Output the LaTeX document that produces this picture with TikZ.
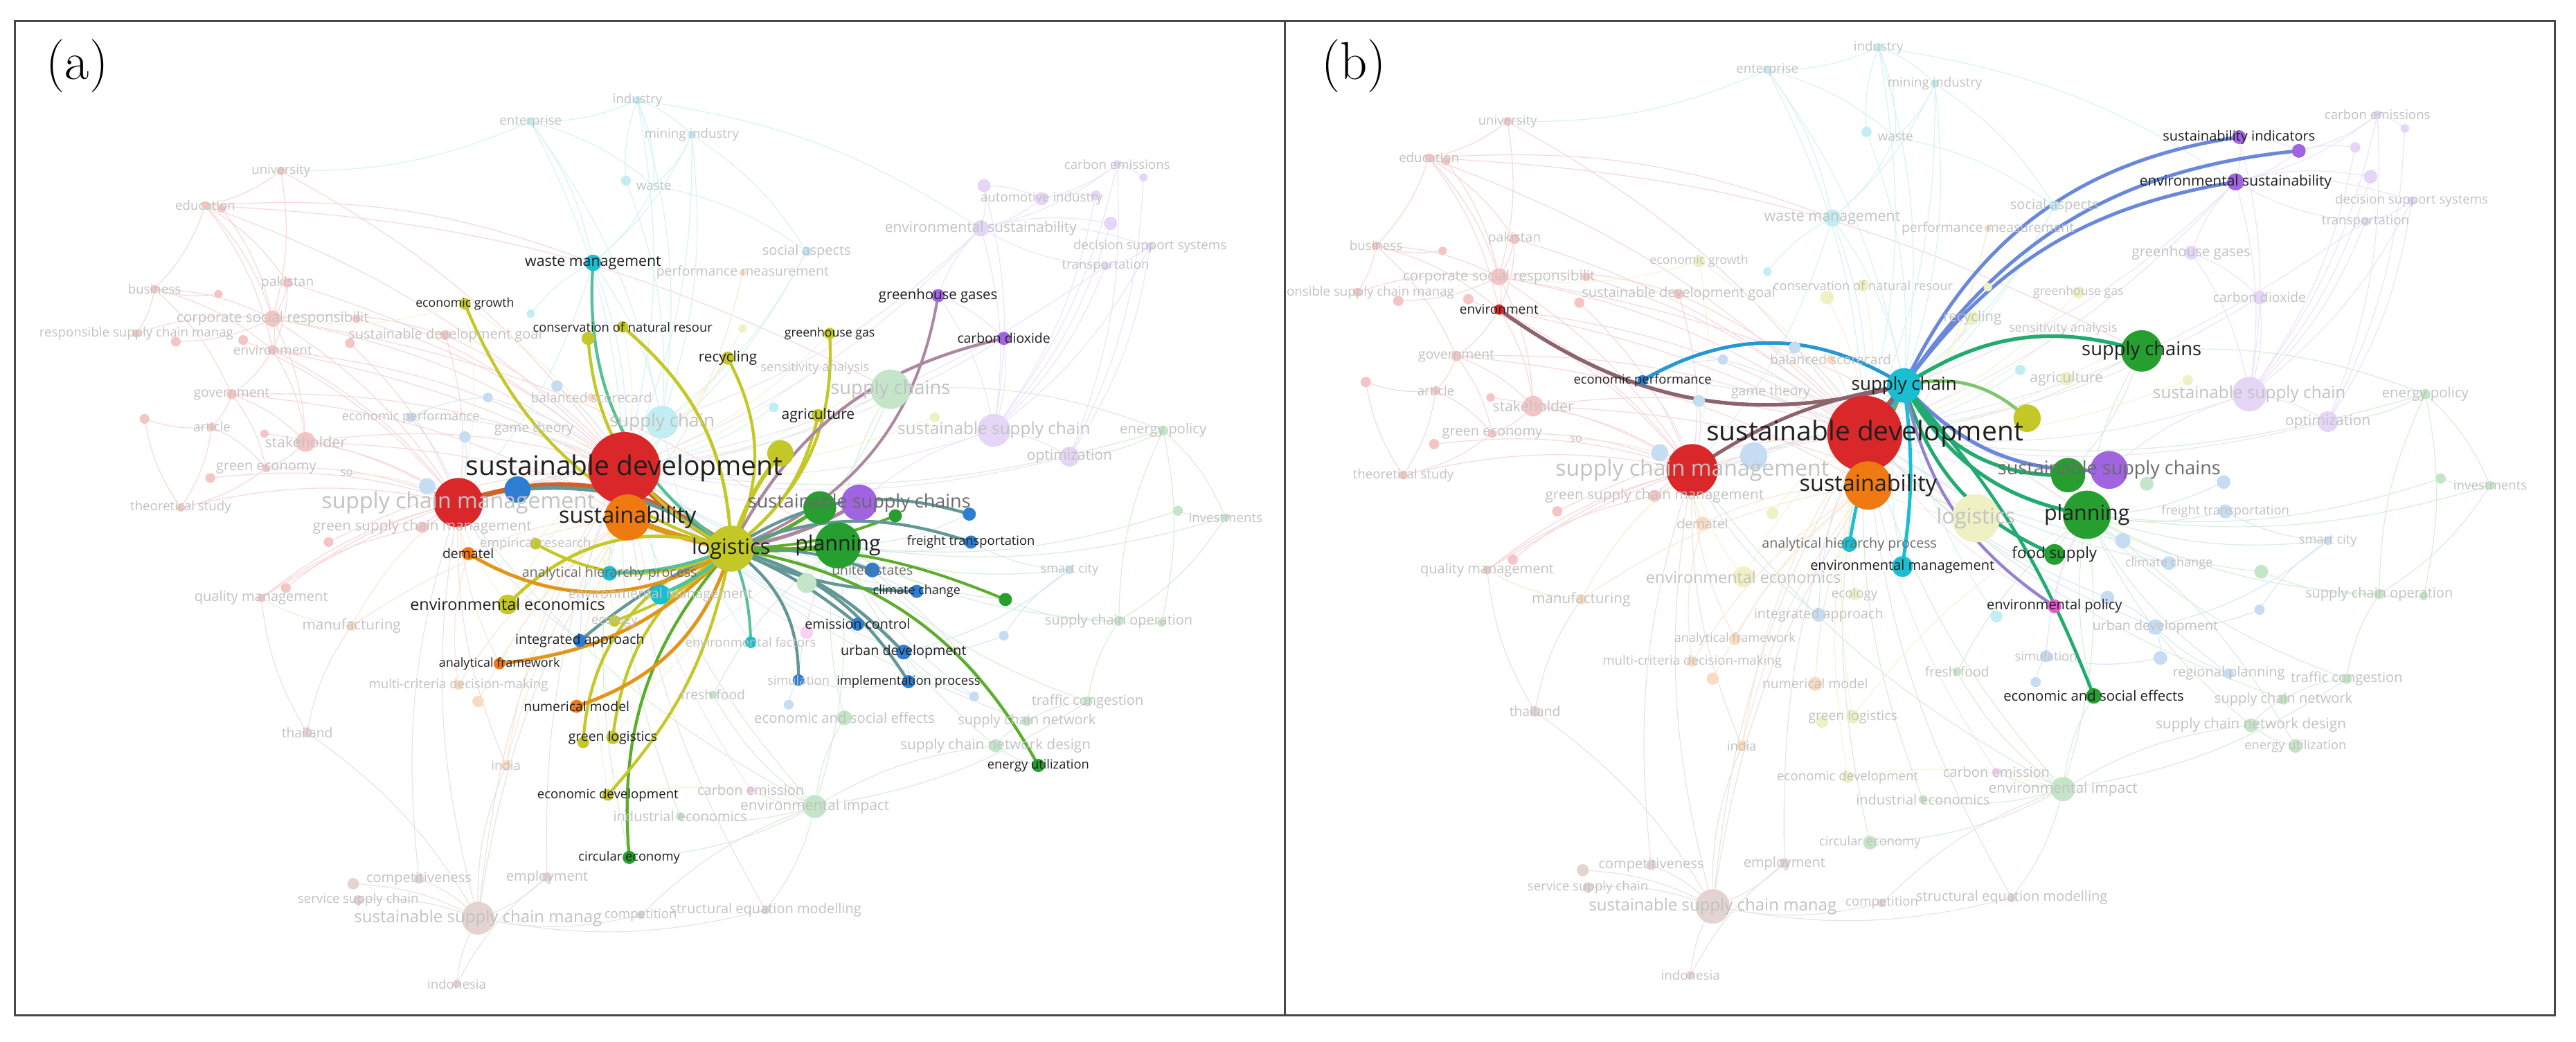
\documentclass[tikz,border=0pt]{standalone}
\usepackage{fontspec}
\newfontfamily\vos{Open Sans}

\definecolor{rd}{RGB}{218,40,42}
\definecolor{gr}{RGB}{38,158,48}
\definecolor{bl}{RGB}{45,125,210}
\definecolor{yl}{RGB}{196,200,38}
\definecolor{pu}{RGB}{160,100,225}
\definecolor{cy}{RGB}{25,190,210}
\definecolor{or}{RGB}{240,122,18}
\definecolor{br}{RGB}{150,95,85}
\definecolor{pk}{RGB}{232,90,205}
\colorlet{fadetext}{black!24}

\tikzset{
  fedge/.style={draw=#1!18, line width=0.35pt},
  hedge/.style={draw=#1, line cap=round},
  lbl/.style={inner sep=0pt, outer sep=0pt},
  frame/.style={draw=black!72, line width=0.9pt}
}

% flags per panel: hn = bright node, hd = dark label, hm = grey label
\newcommand\setflag[2]{\foreach \fn in {#2}{\expandafter\xdef\csname #1:\fn\endcsname{}}}
\expandafter\def\csname show:ab:a\endcsname{}
\expandafter\def\csname show:ab:b\endcsname{}
\expandafter\def\csname show:a:a\endcsname{}
\expandafter\def\csname show:b:b\endcsname{}

\setflag{hna}{logistics,sd,scm,bnode,sustainability,planning,sscg,sscs,gdot1,ydot2,agriculture,ghg,recycling,%
conservation,ydot1,wastemgmt,econgrowth,ghgs,co2,dematel,empirical,ahp,envmgmt,enveco,ecology,integrated,%
analfw,numerical,glog,glog2,econdev,circular,envfactors,simulation,emission,urban,impl,climate,us,freight,%
bldot5,gdot2,energyutil}
\setflag{hda}{sd,sustainability,logistics,planning,econgrowth,wastemgmt,conservation,recycling,ghg,ghgs,co2,%
agriculture,dematel,enveco,integrated,analfw,numerical,glog,econdev,circular,freight,climate,emission,urban,%
impl,energyutil}
\setflag{hma}{ahp,us,sscs}
\setflag{hnb}{supplychain,environment,econperf,sd,sustainability,scm,supplychains,sustind,autoind,envsust,%
ydot2,sscg,sscs,planning,foodsupply,envpolicy,econsoc,envmgmt,ahp}
\setflag{hdb}{environment,econperf,supplychain,sd,sustainability,supplychains,sustind,envsust,planning,%
foodsupply,envmgmt,envpolicy,econsoc}
\setflag{hmb}{ahp,sscs}

% keyword: name, x, y, radius, colour, font size, text, panels with label
\newcommand\kw[8]{%
  \ifcase\netpass\relax
    \coordinate (#1) at (#2,#3);%
  \or
    \ifdim#4pt>0pt
      \ifcsname hn\curpanel:#1\endcsname
        \fill[#5] (#1) circle[radius=#4];%
      \else
        \fill[#5!27] (#1) circle[radius=#4];%
      \fi
    \fi
  \or
    \ifcsname show:#8:\curpanel\endcsname
      \ifcsname hd\curpanel:#1\endcsname\else\ifcsname hm\curpanel:#1\endcsname\else
        \node[lbl, text=fadetext, font={\vos\fontsize{#6}{#6}\selectfont}] (#1-t) at (#1) {#7};%
      \fi\fi
    \fi
  \or
    \ifcsname show:#8:\curpanel\endcsname
      \ifcsname hd\curpanel:#1\endcsname
        \node[lbl, text=black!88, font={\vos\fontsize{#6}{#6}\selectfont}] (#1-t) at (#1) {#7};%
      \else\ifcsname hm\curpanel:#1\endcsname
        \node[lbl, text=black!58, font={\vos\fontsize{#6}{#6}\selectfont}] (#1-t) at (#1) {#7};%
      \fi\fi
    \fi
  \fi}

\newcommand\basenet{%
% red
\kw{university}{171}{104}{2.5}{rd}{5.6}{university}{ab}
\kw{education}{125}{125}{2.5}{rd}{5.6}{education}{ab}
\kw{edudot}{135}{127}{2.5}{rd}{}{}{}
\kw{business}{94}{176}{2.5}{rd}{5.6}{business}{ab}
\kw{pakistan}{175}{172}{3}{rd}{5.8}{pakistan}{ab}
\kw{rdot1}{133}{179}{2.5}{rd}{}{}{}
\kw{csr}{166}{194}{5}{rd}{6.2}{corporate social responsibilit}{ab}
\kw{rdot2}{217}{194}{2.5}{rd}{}{}{}
\kw{rscm}{83}{203}{2.5}{rd}{5.6}{responsible supply chain manag}{ab}
\kw{rdot3}{107}{208}{3}{rd}{}{}{}
\kw{rdot4}{148}{207}{3}{rd}{}{}{}
\kw{environment}{166}{213}{3}{rd}{5.7}{environment}{ab}
\kw{sdg}{271}{204}{3}{rd}{6}{sustainable development goal}{ab}
\kw{rdot5}{213}{209}{3}{rd}{}{}{}
\kw{government}{141}{240}{3}{rd}{5.8}{government}{ab}
\kw{rdot6}{88}{255}{3}{rd}{}{}{}
\kw{article}{129}{260}{2.5}{rd}{5.6}{article}{ab}
\kw{rdot7}{161}{264}{2.5}{rd}{}{}{}
\kw{stakeholder}{186}{269}{6}{rd}{6.4}{stakeholder}{ab}
\kw{greeneco}{162}{285}{2.5}{rd}{6}{green economy}{ab}
\kw{rdot8}{128}{291}{3}{rd}{}{}{}
\kw{theory}{110}{309}{2.5}{rd}{5.6}{theoretical study}{ab}
\kw{gscm}{257}{321}{3.5}{rd}{6.2}{green supply chain management}{ab}
\kw{rdot9}{200}{330}{3}{rd}{}{}{}
\kw{quality}{159}{364}{2.5}{rd}{6}{quality management}{ab}
\kw{rdot10}{174}{358}{3}{rd}{}{}{}
% brown
\kw{thailand}{187}{446}{3}{br}{5.8}{thailand}{ab}
\kw{indonesia}{278}{599}{2.5}{br}{5.6}{indonesia}{ab}
\kw{ssmm}{291}{559}{10}{br}{7.2}{sustainable supply chain manag}{ab}
\kw{competitive}{255}{535}{3}{br}{6}{competitiveness}{ab}
\kw{bdot1}{215}{538}{3.5}{br}{}{}{}
\kw{service}{218}{548}{3}{br}{5.6}{service supply chain}{ab}
\kw{employment}{333}{534}{3}{br}{6}{employment}{ab}
\kw{competition}{390}{557}{2.5}{br}{5.6}{competition}{ab}
\kw{sem}{466}{554}{2.5}{br}{6}{structural equation modelling}{ab}
% orange
\kw{dematel}{285}{337}{4}{or}{5.8}{dematel}{ab}
\kw{analfw}{304}{404}{3.5}{or}{5.4}{analytical framework}{ab}
\kw{numerical}{351}{430}{4}{or}{5.8}{numerical model}{ab}
\kw{mcdm}{279}{417}{3}{or}{5.6}{multi-criteria decision-making}{ab}
\kw{odot1}{291}{427}{3.5}{or}{}{}{}
\kw{india}{308}{466}{3}{or}{5.6}{india}{ab}
\kw{manufacturing}{214}{381}{3}{or}{6.2}{manufacturing}{ab}
\kw{so}{211}{288}{0}{or}{5}{so}{ab}
\kw{perfmeas}{452}{166}{2}{or}{5.8}{performance measurement}{ab}
\kw{balanced}{360}{242}{2.5}{or}{5.8}{balanced scorecard}{ab}
% yellow
\kw{econgrowth}{283}{185}{3.5}{yl}{5.3}{economic growth}{ab}
\kw{conservation}{379}{199}{3.5}{yl}{5.5}{conservation of natural resour}{ab}
\kw{ydot1}{358}{206}{4}{yl}{}{}{}
\kw{recycling}{443}{218}{4}{yl}{6.2}{recycling}{ab}
\kw{ghg}{505}{203}{3.5}{yl}{5.3}{greenhouse gas}{ab}
\kw{agriculture}{498}{253}{4}{yl}{6.3}{agriculture}{ab}
\kw{ydot2}{475}{276}{8}{yl}{}{}{}
\kw{ydot3}{452}{200}{2.5}{yl}{}{}{}
\kw{ydot4}{569}{254}{3}{yl}{}{}{}
\kw{sensitivity}{496}{224}{0}{yl}{5.5}{sensitivity analysis}{ab}
\kw{empirical}{326}{331}{3.5}{yl}{5.6}{empirical research}{a}
\kw{enveco}{309}{368}{6}{yl}{7}{environmental economics}{ab}
\kw{ecology}{374}{378}{3.5}{yl}{5.6}{ecology}{ab}
\kw{glog}{373}{449}{4}{yl}{5.8}{green logistics}{ab}
\kw{glog2}{355}{452}{3.5}{yl}{}{}{}
\kw{econdev}{370}{484}{3.5}{yl}{5.6}{economic development}{ab}
\kw{gametheory}{325}{261}{0}{yl}{5.8}{game theory}{ab}
% cyan
\kw{industry}{388}{61}{2.5}{cy}{5.6}{industry}{ab}
\kw{enterprise}{323}{74}{2.5}{cy}{5.6}{enterprise}{ab}
\kw{mining}{421}{82}{2.5}{cy}{5.6}{mining industry}{ab}
\kw{waste}{398}{113}{0}{cy}{5.6}{waste}{ab}
\kw{cdot0}{381}{110}{3}{cy}{}{}{}
\kw{wastemgmt}{361}{160}{5}{cy}{6.4}{waste management}{ab}
\kw{socialaspects}{491}{153}{3}{cy}{6}{social aspects}{ab}
\kw{supplychain}{403}{257}{10}{cy}{7.8}{supply chain}{ab}
\kw{cdot1}{323}{191}{2.5}{cy}{}{}{}
\kw{cdot2}{471}{248}{3}{cy}{}{}{}
\kw{ahp}{371}{349}{4.5}{cy}{5.9}{analytical hierarchy process}{ab}
\kw{envmgmt}{402}{362}{6}{cy}{6}{environmental management}{ab}
\kw{envfactors}{457}{391}{3.5}{cy}{5.5}{environmental factors}{a}
% purple
\kw{carbonemis}{680}{100}{2.5}{pu}{5.6}{carbon emissions}{ab}
\kw{pdot1}{696}{108}{2.5}{pu}{}{}{}
\kw{sustind}{599}{113}{4}{pu}{6}{sustainability indicators}{b}
\kw{autoind}{634}{121}{4}{pu}{5.6}{automotive industry}{a}
\kw{pdot2}{667}{119}{3}{pu}{}{}{}
\kw{envsust}{597}{139}{5}{pu}{6.3}{environmental sustainability}{ab}
\kw{pdot3}{676}{136}{4}{pu}{}{}{}
\kw{dss}{700}{150}{2.5}{pu}{5.6}{decision support systems}{ab}
\kw{transport}{673}{162}{2.5}{pu}{5.6}{transportation}{ab}
\kw{ghgs}{571}{180}{4}{pu}{6.1}{greenhouse gases}{ab}
\kw{co2}{611}{206}{4}{pu}{5.8}{carbon dioxide}{ab}
\kw{ssc}{605}{262}{10}{pu}{7.3}{sustainable supply chain}{ab}
\kw{optimization}{651}{278}{6}{pu}{6.3}{optimization}{ab}
% green
\kw{supplychains}{542}{237}{12}{gr}{8.2}{supply chains}{ab}
\kw{sscg}{499}{309}{10}{gr}{}{}{}
\kw{gdot1}{545}{314}{4}{gr}{}{}{}
\kw{gdot2}{612}{365}{4}{gr}{}{}{}
\kw{energyutil}{632}{466}{4}{gr}{5.5}{energy utilization}{ab}
\kw{econsoc}{514}{437}{4.5}{gr}{6.1}{economic and social effects}{ab}
\kw{foodsupply}{491}{355}{6}{gr}{6.7}{food supply}{b}
\kw{energypolicy}{708}{262}{3}{gr}{6.1}{energy policy}{ab}
\kw{investments}{746}{315}{2.5}{gr}{5.6}{investments}{ab}
\kw{gdot3}{717}{311}{3}{gr}{}{}{}
\kw{scop}{681}{378}{3}{gr}{6}{supply chain operation}{ab}
\kw{gdot4}{707}{379}{2.5}{gr}{}{}{}
\kw{traffic}{662}{427}{3}{gr}{6}{traffic congestion}{ab}
\kw{scn}{625}{439}{3}{gr}{6}{supply chain network}{ab}
\kw{scnd}{606}{454}{4}{gr}{6.2}{supply chain network design}{ab}
\kw{envimpact}{496}{491}{7}{gr}{6.3}{environmental impact}{ab}
\kw{freshfood}{434}{423}{2.5}{gr}{5.8}{fresh food}{ab}
\kw{industrial}{414}{497}{2.5}{gr}{6}{industrial economics}{ab}
\kw{circular}{383}{522}{4}{gr}{5.5}{circular economy}{ab}
% blue
\kw{bnode}{315}{298}{8}{bl}{}{}{}
\kw{econperf}{250}{254}{3}{bl}{5.5}{economic performance}{ab}
\kw{bldot1}{339}{235}{3.5}{bl}{}{}{}
\kw{bldot2}{297}{242}{3}{bl}{}{}{}
\kw{bldot3}{283}{266}{3.5}{bl}{}{}{}
\kw{bldot4}{260}{296}{5}{bl}{}{}{}
\kw{integrated}{353}{390}{4}{bl}{5.9}{integrated approach}{ab}
\kw{us}{531}{347}{4.5}{bl}{5.8}{united states}{a}
\kw{climate}{558}{360}{4}{bl}{5.4}{climate change}{ab}
\kw{emission}{522}{380}{4}{bl}{5.9}{emission control}{a}
\kw{urban}{550}{397}{4.5}{bl}{5.9}{urban development}{ab}
\kw{simulation}{486}{414}{3.5}{bl}{5.5}{simulation}{ab}
\kw{impl}{553}{415}{4}{bl}{5.5}{implementation process}{a}
\kw{freight}{591}{330}{4}{bl}{5.5}{freight transportation}{ab}
\kw{bldot5}{590}{313}{4}{bl}{}{}{}
\kw{regional}{593}{424}{3}{bl}{6}{regional planning}{b}
\kw{smartcity}{651}{347}{2.5}{bl}{5.5}{smart city}{ab}
\kw{bldot6}{480}{429}{3}{bl}{}{}{}
\kw{bldot7}{611}{387}{3}{bl}{}{}{}
% pink
\kw{carbonemission}{457}{481}{2.5}{pk}{6}{carbon emission}{ab}
\kw{envpolicy}{491}{385}{4}{pk}{6}{environmental policy}{b}
% big ones
\kw{scm}{279}{306}{15}{rd}{9.6}{supply chain management}{ab}
\kw{sd}{380}{285}{22}{rd}{11.7}{sustainable development}{ab}
\kw{sustainability}{382}{315}{14}{or}{9.7}{sustainability}{ab}
\kw{logistics}{445}{334}{14}{yl}{9.2}{logistics}{ab}
\kw{planning}{510}{332}{14}{gr}{9.1}{planning}{ab}
\kw{sscs}{523}{306}{11}{pu}{8.1}{sustainable supply chains}{ab}
}

% faint links
\newcommand\fadenet{%
\foreach \fa/\fb in {university/education,university/csr,university/sd,education/business,education/pakistan,%
education/csr,education/environment,education/sd,education/wastemgmt,edudot/csr,business/csr,business/rscm,%
business/government,business/environment,pakistan/csr,pakistan/environment,pakistan/sd,csr/environment,%
csr/stakeholder,csr/sd,csr/scm,csr/rdot3,csr/sdg,environment/government,environment/sd,environment/stakeholder,%
environment/scm,government/article,government/stakeholder,government/greeneco,government/sd,article/greeneco,%
article/theory,article/rdot6,stakeholder/scm,stakeholder/sd,stakeholder/greeneco,greeneco/theory,greeneco/scm,%
theory/scm,theory/rdot6,sdg/sd,sdg/scm,quality/scm,quality/gscm,quality/sd,gscm/scm,gscm/sd,rscm/csr,%
rdot1/business,rdot2/sd,rdot4/scm,rdot5/scm,rdot7/scm,rdot8/scm,rdot9/sd,rdot10/scm,environment/logistics,%
csr/planning,stakeholder/logistics,government/sustainability,education/supplychains}
  \draw[fedge=rd] (\fa) to[bend left=12] (\fb);
\foreach \fa/\fb in {thailand/ssmm,thailand/manufacturing,thailand/quality,competitive/ssmm,employment/ssmm,%
ssmm/sd,ssmm/scm,ssmm/india,india/scm,competitive/scm,indonesia/ssmm,service/ssmm,competition/ssmm,sem/ssmm,%
employment/sd,bdot1/ssmm,sem/sd,competition/envimpact,ssmm/sustainability,indonesia/employment}
  \draw[fedge=br] (\fa) to[bend left=12] (\fb);
\foreach \fa/\fb in {dematel/sustainability,dematel/scm,analfw/sustainability,numerical/sustainability,%
mcdm/sustainability,mcdm/dematel,india/sustainability,manufacturing/sustainability,manufacturing/scm,%
perfmeas/sustainability,balanced/sustainability,odot1/sustainability,manufacturing/quality,analfw/scm,india/sd,so/scm}
  \draw[fedge=or] (\fa) to[bend left=12] (\fb);
\foreach \fa/\fb in {econgrowth/sd,conservation/sd,recycling/sd,ghg/sd,agriculture/sd,enveco/sd,ecology/sd,glog/sd,%
econdev/sd,ydot2/sd,empirical/sd,gametheory/sd,ydot3/sd,ydot4/sd,econgrowth/scm,recycling/supplychain,%
agriculture/supplychains,enveco/scm,glog/planning,econdev/envimpact,ydot1/sd,ecology/envmgmt,econgrowth/csr,%
sensitivity/sd,logistics/sd,logistics/planning,logistics/sustainability}
  \draw[fedge=yl] (\fa) to[bend left=12] (\fb);
\foreach \fa/\fb in {industry/enterprise,industry/mining,industry/waste,enterprise/waste,enterprise/wastemgmt,%
mining/waste,mining/wastemgmt,waste/wastemgmt,waste/socialaspects,wastemgmt/supplychain,wastemgmt/sd,%
socialaspects/supplychain,supplychain/sd,supplychain/scm,ahp/supplychain,envmgmt/supplychain,%
envfactors/supplychain,cdot1/wastemgmt,industry/sd,enterprise/supplychain,mining/supplychain,%
industry/supplychain,mining/sd,enterprise/sd,cdot0/supplychain,enterprise/university,industry/envsust,%
mining/socialaspects,socialaspects/sd,cdot2/sd,wastemgmt/scm,cdot0/industry}
  \draw[fedge=cy] (\fa) to[bend left=12] (\fb);
\foreach \fa/\fb in {carbonemis/pdot1,carbonemis/autoind,carbonemis/envsust,autoind/envsust,autoind/pdot2,%
envsust/pdot3,envsust/dss,dss/transport,transport/envsust,ghgs/envsust,ghgs/co2,co2/ssc,ghgs/ssc,%
ssc/optimization,envsust/ssc,sustind/envsust,ssc/sd,sscs/ssc,envsust/sd,co2/sd,carbonemis/ssc,transport/ssc,%
dss/ssc,pdot3/ssc,optimization/sd,sustind/ssc,pdot1/optimization,carbonemis/optimization,sscs/sd,%
envsust/supplychain,dss/optimization,transport/sd,pdot2/ssc,sustind/autoind}
  \draw[fedge=pu] (\fa) to[bend left=12] (\fb);
\foreach \fa/\fb in {planning/supplychains,planning/sscg,supplychains/sd,supplychains/sscg,%
supplychains/energypolicy,energypolicy/investments,energypolicy/optimization,investments/gdot3,%
planning/energyutil,planning/envimpact,envimpact/freshfood,envimpact/econsoc,envimpact/scnd,%
envimpact/carbonemission,envimpact/industrial,envimpact/circular,scnd/scn,scn/traffic,traffic/scop,%
scop/gdot2,scop/planning,scnd/planning,econsoc/planning,freshfood/planning,energyutil/scnd,envimpact/sd,%
smartcity/planning,gdot4/scop,gdot3/planning,energypolicy/sd,investments/planning,scop/energypolicy,%
traffic/planning,scn/sd,circular/sd,industrial/sd,gdot2/planning,foodsupply/planning,envimpact/scm,%
energypolicy/gdot4,investments/scop,traffic/envimpact,envimpact/sem}
  \draw[fedge=gr] (\fa) to[bend left=12] (\fb);
\foreach \fa/\fb in {bnode/sd,bnode/scm,econperf/sd,econperf/scm,us/planning,climate/planning,emission/urban,%
urban/impl,impl/simulation,simulation/planning,freight/planning,regional/urban,smartcity/urban,bldot7/urban,%
integrated/sd,integrated/scm,climate/sd,us/sd,bldot6/simulation,bldot1/sd,bldot2/sd,bldot3/scm,bldot4/scm,%
regional/planning,smartcity/freight,bldot5/planning,emission/sd,urban/sd,econperf/bldot2,bldot7/smartcity}
  \draw[fedge=bl] (\fa) to[bend left=12] (\fb);
\foreach \fa/\fb in {carbonemission/sd,envpolicy/sd,carbonemission/envimpact,envpolicy/planning}
  \draw[fedge=pk] (\fa) to[bend left=12] (\fb);
}

\begin{document}
\begin{tikzpicture}[x=0.025cm, y=-0.025cm]
\useasboundingbox (0,0) rectangle (1568,634);
\fill[white] (0,0) rectangle (1568,634);

% panel a: links of logistics
\begin{scope}
\clip (9,13) rectangle (782,618);
\begin{scope}[name prefix=a-]
\def\curpanel{a}
\def\netpass{0}\basenet
\fadenet
\foreach \tn/\cl/\bd/\lw in {sd/rd/8/2.6,scm/rd/-28/2.2,sustainability/or/5/2.4,planning/gr/-5/2,%
bnode/bl/-20/1.6,sscg/gr/-10/1.6,sscs/pu/-10/1.6,gdot1/gr/-10/1.2,ydot2/yl/10/1.8,agriculture/yl/-20/1.3,%
ghg/yl/-28/1.3,recycling/yl/-27/1.3,conservation/yl/-24/1.4,ydot1/yl/30/1.3,wastemgmt/cy/30/1.3,%
econgrowth/yl/25/1.3,ghgs/pu/-30/1.2,co2/pu/25/1.3,bldot5/bl/25/1.3,freight/bl/20/1.3,us/bl/10/1.3,%
climate/bl/-12/1.3,gdot2/gr/12/1.2,energyutil/gr/26/1.3,emission/bl/8/1.3,urban/bl/15/1.4,impl/bl/21/1.3,%
simulation/bl/28/1.3,envfactors/cy/10/1.2,circular/gr/-23/1.3,econdev/yl/15/1.3,glog/yl/-25/1.3,%
glog2/yl/-34/1.3,numerical/or/27/1.5,analfw/or/20/1.5,integrated/bl/-8/1.3,ecology/yl/12/1.2,%
enveco/yl/-32/1.4,empirical/yl/28/1.3,dematel/or/32/1.5,ahp/cy/10/1.4,envmgmt/cy/10/1.6}
  \draw[hedge=\cl!65!yl, line width=\lw pt] (logistics) to[bend left=\bd] (\tn);
\def\netpass{1}\basenet
\def\netpass{2}\basenet
\def\netpass{3}\basenet
\end{scope}
\end{scope}

% panel b: links of supply chain
\begin{scope}
\clip (782,13) rectangle (1555,618);
\begin{scope}[name prefix=b-, shift={(739.8,-35.25)}, xscale=1.04, yscale=1.05]
\def\curpanel{b}
\def\netpass{0}\basenet
\fadenet
\foreach \tn/\cl/\bd/\lw in {environment/rd/25/1.6,econperf/bl/-31/1.5,scm/rd/-12/1.5,sd/rd/0/2.4,%
sustainability/or/-5/2,sustind/pu/28/1.5,autoind/pu/25/1.5,envsust/pu/22/1.5,supplychains/gr/25/1.6,%
ydot2/yl/28/1.4,sscg/gr/-30/1.6,sscs/pu/-25/1.6,planning/gr/-25/1.6,foodsupply/gr/-25/1.5,%
envpolicy/pk/-22/1.3,econsoc/gr/10/1.4,envmgmt/cy/8/1.5,ahp/cy/-10/1.4}
  \draw[hedge=\cl!60!cy, line width=\lw pt] (supplychain) to[bend left=\bd] (\tn);
\def\netpass{1}\basenet
\def\netpass{2}\basenet
\def\netpass{3}\basenet
\end{scope}
\end{scope}

%Text
\node[font=\fontsize{23}{23}\selectfont] (panela) at (47,40) {(a)};
\node[font=\fontsize{23}{23}\selectfont] (panelb) at (824,40) {(b)};
\draw[frame] (9,13) rectangle (1555,618);
\draw[frame] (782,13) -- (782,618);
\end{tikzpicture}
\end{document}
